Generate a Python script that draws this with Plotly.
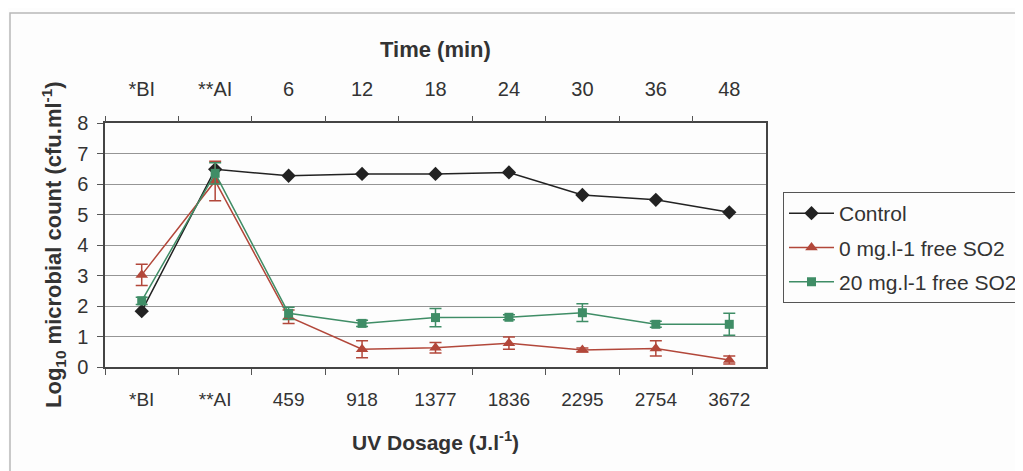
import plotly.graph_objects as go

dosage_labels = ["*BI", "**AI", "459", "918", "1377", "1836", "2295", "2754", "3672"]
time_labels = ["*BI", "**AI", "6", "12", "18", "24", "30", "36", "48"]

control = [1.83, 6.48, 6.27, 6.33, 6.33, 6.38, 5.64, 5.48, 5.07]
so2_0 = [3.02, 6.10, 1.65, 0.58, 0.63, 0.78, 0.56, 0.61, 0.23]
so2_0_err = [0.35, 0.65, 0.22, 0.28, 0.17, 0.20, 0.06, 0.25, 0.13]
so2_20 = [2.17, 6.35, 1.76, 1.43, 1.62, 1.63, 1.78, 1.40, 1.40]
so2_20_err = [0.12, 0.35, 0.20, 0.10, 0.30, 0.08, 0.29, 0.10, 0.36]

# page is offset by the browser's default 8px body margin
OFF = 8
W, H = 1023 - OFF, 471 - OFF


def px(xp):
    return (xp - OFF) / W


def py(yp):
    return 1 - (yp - OFF) / H


FONT = "Liberation Sans, Arial, sans-serif"
RED = "#b2473a"
GREEN = "#3f8d66"
BLACK = "#222222"
TXT = "#333333"

fig = go.Figure()
fig.add_trace(go.Scatter(
    x=dosage_labels, y=control, name="Control", mode="lines+markers",
    line=dict(color=BLACK, width=1.5),
    marker=dict(symbol="diamond", size=11, color=BLACK),
    legendgroup="a",
))
fig.add_trace(go.Scatter(
    x=dosage_labels, y=so2_0, name="0 mg.l-1 free SO2", mode="lines+markers",
    line=dict(color=RED, width=1.5),
    marker=dict(symbol="triangle-up", size=11, color=RED),
    error_y=dict(type="data", array=so2_0_err, visible=True, color=RED, thickness=1.5, width=6),
    legendgroup="b",
))
fig.add_trace(go.Scatter(
    x=dosage_labels, y=so2_20, name="20 mg.l-1 free SO2", mode="lines+markers",
    line=dict(color=GREEN, width=1.5),
    marker=dict(symbol="square", size=9, color=GREEN),
    error_y=dict(type="data", array=so2_20_err, visible=True, color=GREEN, thickness=1.5, width=6),
    legendgroup="c",
))
# carrier trace for the top (time) axis
fig.add_trace(go.Scatter(
    x=dosage_labels, y=[None] * len(dosage_labels), xaxis="x2", yaxis="y",
    showlegend=False, hoverinfo="skip", mode="markers",
))

xdom = [px(105), px(766)]
ydom = [py(367), py(123)]
xmid = (xdom[0] + xdom[1]) / 2

fig.update_layout(
    width=W, height=H,
    margin=dict(l=0, r=0, t=0, b=0, autoexpand=False),
    paper_bgcolor="#fdfdfd", plot_bgcolor="#fdfdfd",
    font=dict(family=FONT, color=TXT),
    xaxis=dict(
        domain=xdom, type="category", categoryarray=dosage_labels,
        range=[-0.5, len(dosage_labels) - 0.5],
        tickson="boundaries", ticks="outside", ticklen=6, tickcolor="#555",
        showline=True, linecolor="#444", linewidth=1.5, mirror=True,
        showgrid=False, zeroline=False,
        tickfont=dict(family=FONT, size=19, color=TXT),
        ticklabelstandoff=14,
    ),
    xaxis2=dict(
        overlaying="x", side="top", type="category", categoryarray=dosage_labels,
        range=[-0.5, len(dosage_labels) - 0.5], anchor="y",
        tickmode="array", tickvals=dosage_labels, ticktext=time_labels,
        tickson="boundaries", ticks="outside", ticklen=6, tickcolor="#555",
        showline=False, showgrid=False, zeroline=False,
        tickfont=dict(family=FONT, size=20, color=TXT),
        ticklabelstandoff=22,
    ),
    yaxis=dict(
        domain=ydom, range=[0, 8], dtick=1, tick0=0,
        ticks="outside", ticklen=6, tickcolor="#555",
        showline=True, linecolor="#444", linewidth=1.5, mirror=True,
        showgrid=True, gridcolor="#959595", gridwidth=1, zeroline=False,
        tickfont=dict(family=FONT, size=20, color=TXT),
        ticklabelstandoff=5,
    ),
    legend=dict(
        x=px(783), y=py(192), xanchor="left", yanchor="top",
        bgcolor="#fdfdfd", bordercolor="#555", borderwidth=1,
        font=dict(family=FONT, size=21, color=TXT),
        tracegroupgap=4, itemwidth=45,
    ),
    annotations=[
        dict(text="<b>Time (min)</b>", x=xmid, y=py(50),
             xanchor="center", yanchor="middle",
             xref="paper", yref="paper", showarrow=False,
             font=dict(family=FONT, size=22, color=TXT)),
        dict(text="<b>UV Dosage (J.l<sup>-1</sup>)</b>", x=xmid, y=py(441),
             xanchor="center", yanchor="middle",
             xref="paper", yref="paper", showarrow=False,
             font=dict(family=FONT, size=21, color=TXT)),
        dict(text="<b>Log<sub>10</sub> microbial count (cfu.ml<sup>-1</sup>)</b>",
             x=px(53), y=(ydom[0] + ydom[1]) / 2, textangle=-90,
             xanchor="center", yanchor="middle",
             xref="paper", yref="paper", showarrow=False,
             font=dict(family=FONT, size=22, color=TXT)),
    ],
    shapes=[
        dict(type="rect", xref="paper", yref="paper",
             x0=px(10), x1=1.2, y0=-0.2, y1=py(13),
             line=dict(color="#b8b8b8", width=1.5), layer="below"),
    ],
)

fig.write_html("out.html")
